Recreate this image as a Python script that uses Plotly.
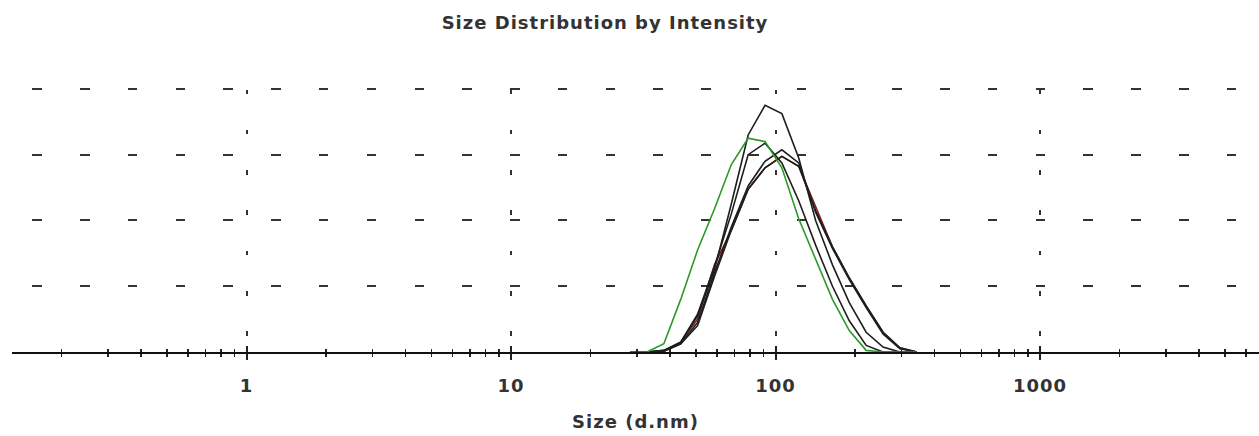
import plotly.graph_objects as go

# Size bins (d.nm) of the instrument around the peak
sizes = [28.21, 32.67, 37.84, 43.82, 50.75, 58.77, 68.06, 78.82, 91.28,
         105.7, 122.4, 141.8, 164.2, 190.1, 220.2, 255.0, 295.3, 342.0]

# Intensity (%) per record
rec_red   = [0, 0, 0.05, 0.6, 2.0, 5.3, 7.4, 9.9, 11.2, 11.9, 11.3, 8.9, 6.4, 4.5, 2.8, 1.2, 0.25, 0]
rec_c     = [0, 0, 0.05, 0.5, 1.8, 4.8, 7.6, 10.1, 11.6, 12.3, 11.5, 8.5, 6.3, 4.4, 2.7, 1.1, 0.2, 0]
rec_d     = [0, 0, 0.05, 0.5, 1.6, 4.6, 7.4, 9.9, 11.2, 11.9, 11.3, 8.6, 6.4, 4.5, 2.8, 1.2, 0.25, 0]
rec_b     = [0, 0, 0.1, 0.6, 2.3, 5.2, 8.4, 12.0, 12.7, 11.5, 9.2, 6.5, 4.0, 1.9, 0.4, 0, 0, 0]
rec_a     = [0, 0, 0.1, 0.6, 2.2, 5.0, 9.0, 13.2, 15.0, 14.5, 11.8, 8.0, 5.3, 3.0, 1.2, 0.3, 0, 0]
rec_green = [0, 0, 0.5, 3.2, 6.2, 8.7, 11.4, 13.0, 12.8, 11.2, 8.1, 5.6, 3.2, 1.3, 0.1, 0, 0, 0]

major_ticks = [1, 10, 100, 1000]
major_labels = ["1", "10", "100", "1000"]
minor_ticks = [m * 10 ** k for k in range(-1, 4) for m in range(2, 10)]
y_grid = [4, 8, 12, 16]

W, H = 1259, 436
L, R, T, B = 12, 0, 84, 84
x_one_px, decade_px = 246.5, 264.5
xmin = (L - x_one_px) / decade_px
xmax = (W - R - x_one_px) / decade_px

series = [
    (rec_red, "#8b1c1c"),
    (rec_c, "#1e1e1e"),
    (rec_d, "#1e1e1e"),
    (rec_b, "#1e1e1e"),
    (rec_a, "#1e1e1e"),
    (rec_green, "#2a9a2a"),
]

fig = go.Figure()
for vals, col in series:
    fig.add_trace(go.Scatter(x=sizes, y=vals, mode="lines",
                             line=dict(color=col, width=1.6),
                             showlegend=False, hoverinfo="skip"))
# empty trace so the overlay axis (inside ticks) is drawn
fig.add_trace(go.Scatter(x=[], y=[], xaxis="x2", showlegend=False))

font_family = "DejaVu Sans"
txt_font = dict(family=font_family, size=18, color="#333333", weight="bold")
fig.update_layout(
    width=W, height=H,
    margin=dict(l=L, r=R, t=T, b=B, pad=0),
    paper_bgcolor="white", plot_bgcolor="white",
    title=dict(text="Size Distribution by Intensity", font=txt_font,
               x=(605 - L) / (W - L - R), xref="paper", xanchor="center",
               y=1 - 23 / H, yref="container", yanchor="middle"),
    xaxis=dict(type="log", range=[xmin, xmax],
               tickmode="array", tickvals=major_ticks, ticktext=major_labels,
               ticks="outside", ticklen=6, tickwidth=2, tickcolor="#222",
               tickfont=txt_font,
               ticklabelstandoff=10,
               showline=True, linecolor="#111", linewidth=2,
               showgrid=True, gridcolor="#333", gridwidth=2,
               griddash="0px,5.5px,4.5px,30.3px",
               minor=dict(tickvals=minor_ticks, ticks="outside", ticklen=3,
                          tickwidth=1.5, tickcolor="#222", showgrid=False),
               zeroline=False,
               title=dict(text="Size (d.nm)", font=txt_font, standoff=21)),
    xaxis2=dict(type="log", range=[xmin, xmax], overlaying="x", anchor="y",
                side="bottom", tickmode="array", tickvals=major_ticks,
                ticks="inside", ticklen=6, tickwidth=2, tickcolor="#222",
                showticklabels=False, showgrid=False, showline=False,
                zeroline=False,
                minor=dict(tickvals=minor_ticks, ticks="inside", ticklen=3,
                           tickwidth=1.5, tickcolor="#222", showgrid=False)),
    yaxis=dict(range=[0, 16.3], tickmode="array", tickvals=y_grid,
               showticklabels=False, ticks="", showline=False, zeroline=False,
               showgrid=True, gridcolor="#333", gridwidth=2,
               griddash="0px,20.3px,9.5px,17.98px"),
)

page_js = (
    "document.body.style.margin='0';"
    "document.body.style.overflow='hidden';"
    "document.querySelectorAll('.main-svg text').forEach(function(t){"
    "t.style.letterSpacing='1px';});"
)
fig.write_html("out.html", post_script=page_js,
               config={"displayModeBar": False, "staticPlot": True})
